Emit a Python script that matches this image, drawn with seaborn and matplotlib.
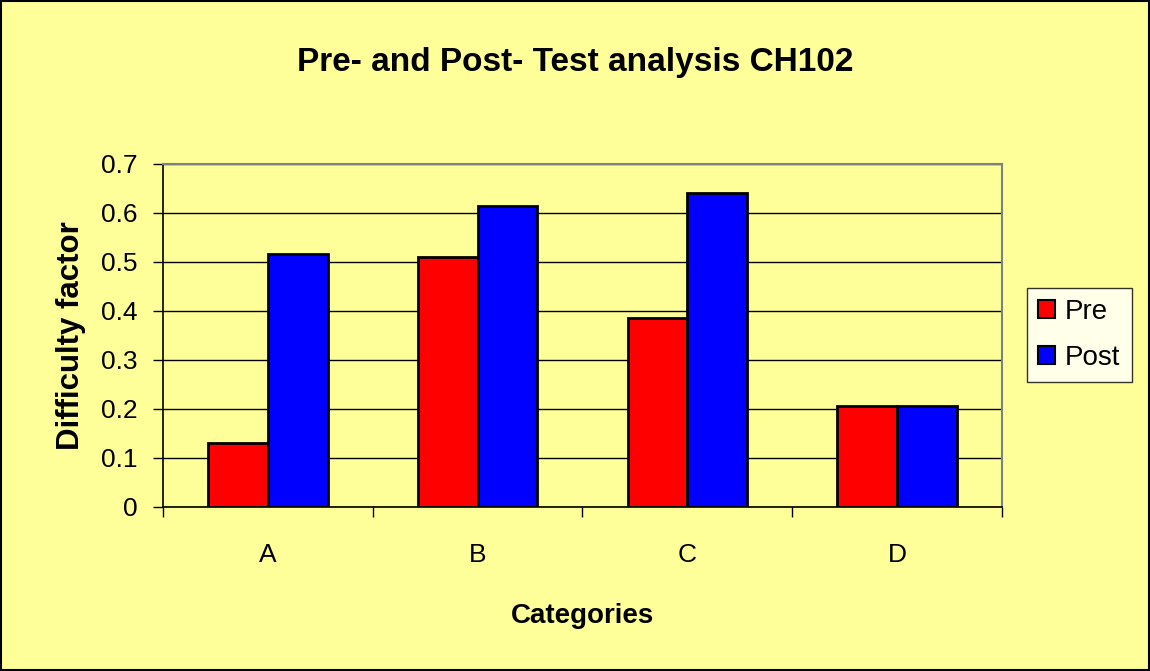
import pandas as pd
import matplotlib.pyplot as plt
import seaborn as sns

categories = ['A', 'B', 'C', 'D']
pre_values = [0.13, 0.51, 0.386, 0.206]
post_values = [0.516, 0.613, 0.641, 0.206]
y_ticks = [0, 0.1, 0.2, 0.3, 0.4, 0.5, 0.6, 0.7]

df = pd.DataFrame({
    'Category': categories * 2,
    'Value': pre_values + post_values,
    'Test': ['Pre'] * 4 + ['Post'] * 4,
})

sns.set_style('white')
plt.rcParams['font.family'] = ['Liberation Sans', 'DejaVu Sans']
plt.rcParams['text.color'] = 'black'
plt.rcParams['axes.labelcolor'] = 'black'
plt.rcParams['xtick.color'] = 'black'
plt.rcParams['ytick.color'] = 'black'

fig = plt.figure(figsize=(11.5, 6.71), dpi=100, facecolor='#FFFF99')
ax = fig.add_axes([0.1417, 0.2449, 0.7296, 0.5111])
ax.set_facecolor('#FFFF99')

sns.barplot(data=df, x='Category', y='Value', hue='Test',
            palette={'Pre': '#FF0000', 'Post': '#0000FF'},
            edgecolor='black', linewidth=2, width=0.57, gap=0, ax=ax,
            saturation=1)

ax.set_ylim(0, 0.7)
ax.set_xlim(-0.5, 3.5)
ax.set_yticks(y_ticks)
ax.set_yticklabels(['0' if t == 0 else f'{t:.1f}' for t in y_ticks])
ax.yaxis.grid(True, color='black', linewidth=1)
ax.set_axisbelow(True)

# x ticks sit between categories, labels centred under bars
ax.set_xticks([-0.5, 0.5, 1.5, 2.5, 3.5], minor=True)
ax.set_xticks(range(4))
ax.tick_params(axis='x', which='major', bottom=True, length=0, labelsize=19, pad=26)
ax.tick_params(axis='x', which='minor', bottom=True, length=7, width=1, direction='out')
ax.tick_params(axis='y', left=True, length=7, width=1, direction='out', labelsize=19, pad=11)

for side in ['top', 'right']:
    ax.spines[side].set_color('#808080')
    ax.spines[side].set_linewidth(1.5)
for side in ['left', 'bottom']:
    ax.spines[side].set_color('black')
    ax.spines[side].set_linewidth(1.2)

ax.set_xlabel('Categories', fontsize=20, fontweight='bold', labelpad=26)
ax.set_ylabel('Difficulty factor', fontsize=22.5, fontweight='bold', labelpad=11)
fig.text(0.5, 1 - 62 / 671, 'Pre- and Post- Test analysis CH102',
         fontsize=24, fontweight='bold', ha='center', va='center')

leg = ax.legend(loc='center left', bbox_to_anchor=(1.03, 0.5), fontsize=20,
                frameon=True, fancybox=False, edgecolor='black', facecolor='white',
                handlelength=0.62, handleheight=0.62, handletextpad=0.35,
                labelspacing=0.72, borderpad=0.4, borderaxespad=0)
leg.get_frame().set_linewidth(1)
for h in leg.legend_handles:
    h.set_edgecolor('black')
    h.set_linewidth(1.5)

border = plt.Rectangle((0.001, 0.001), 0.998, 0.997, transform=fig.transFigure,
                       fill=False, edgecolor='black', linewidth=1.5)
fig.patches.append(border)

fig.savefig('out.png', dpi=100, facecolor=fig.get_facecolor())
